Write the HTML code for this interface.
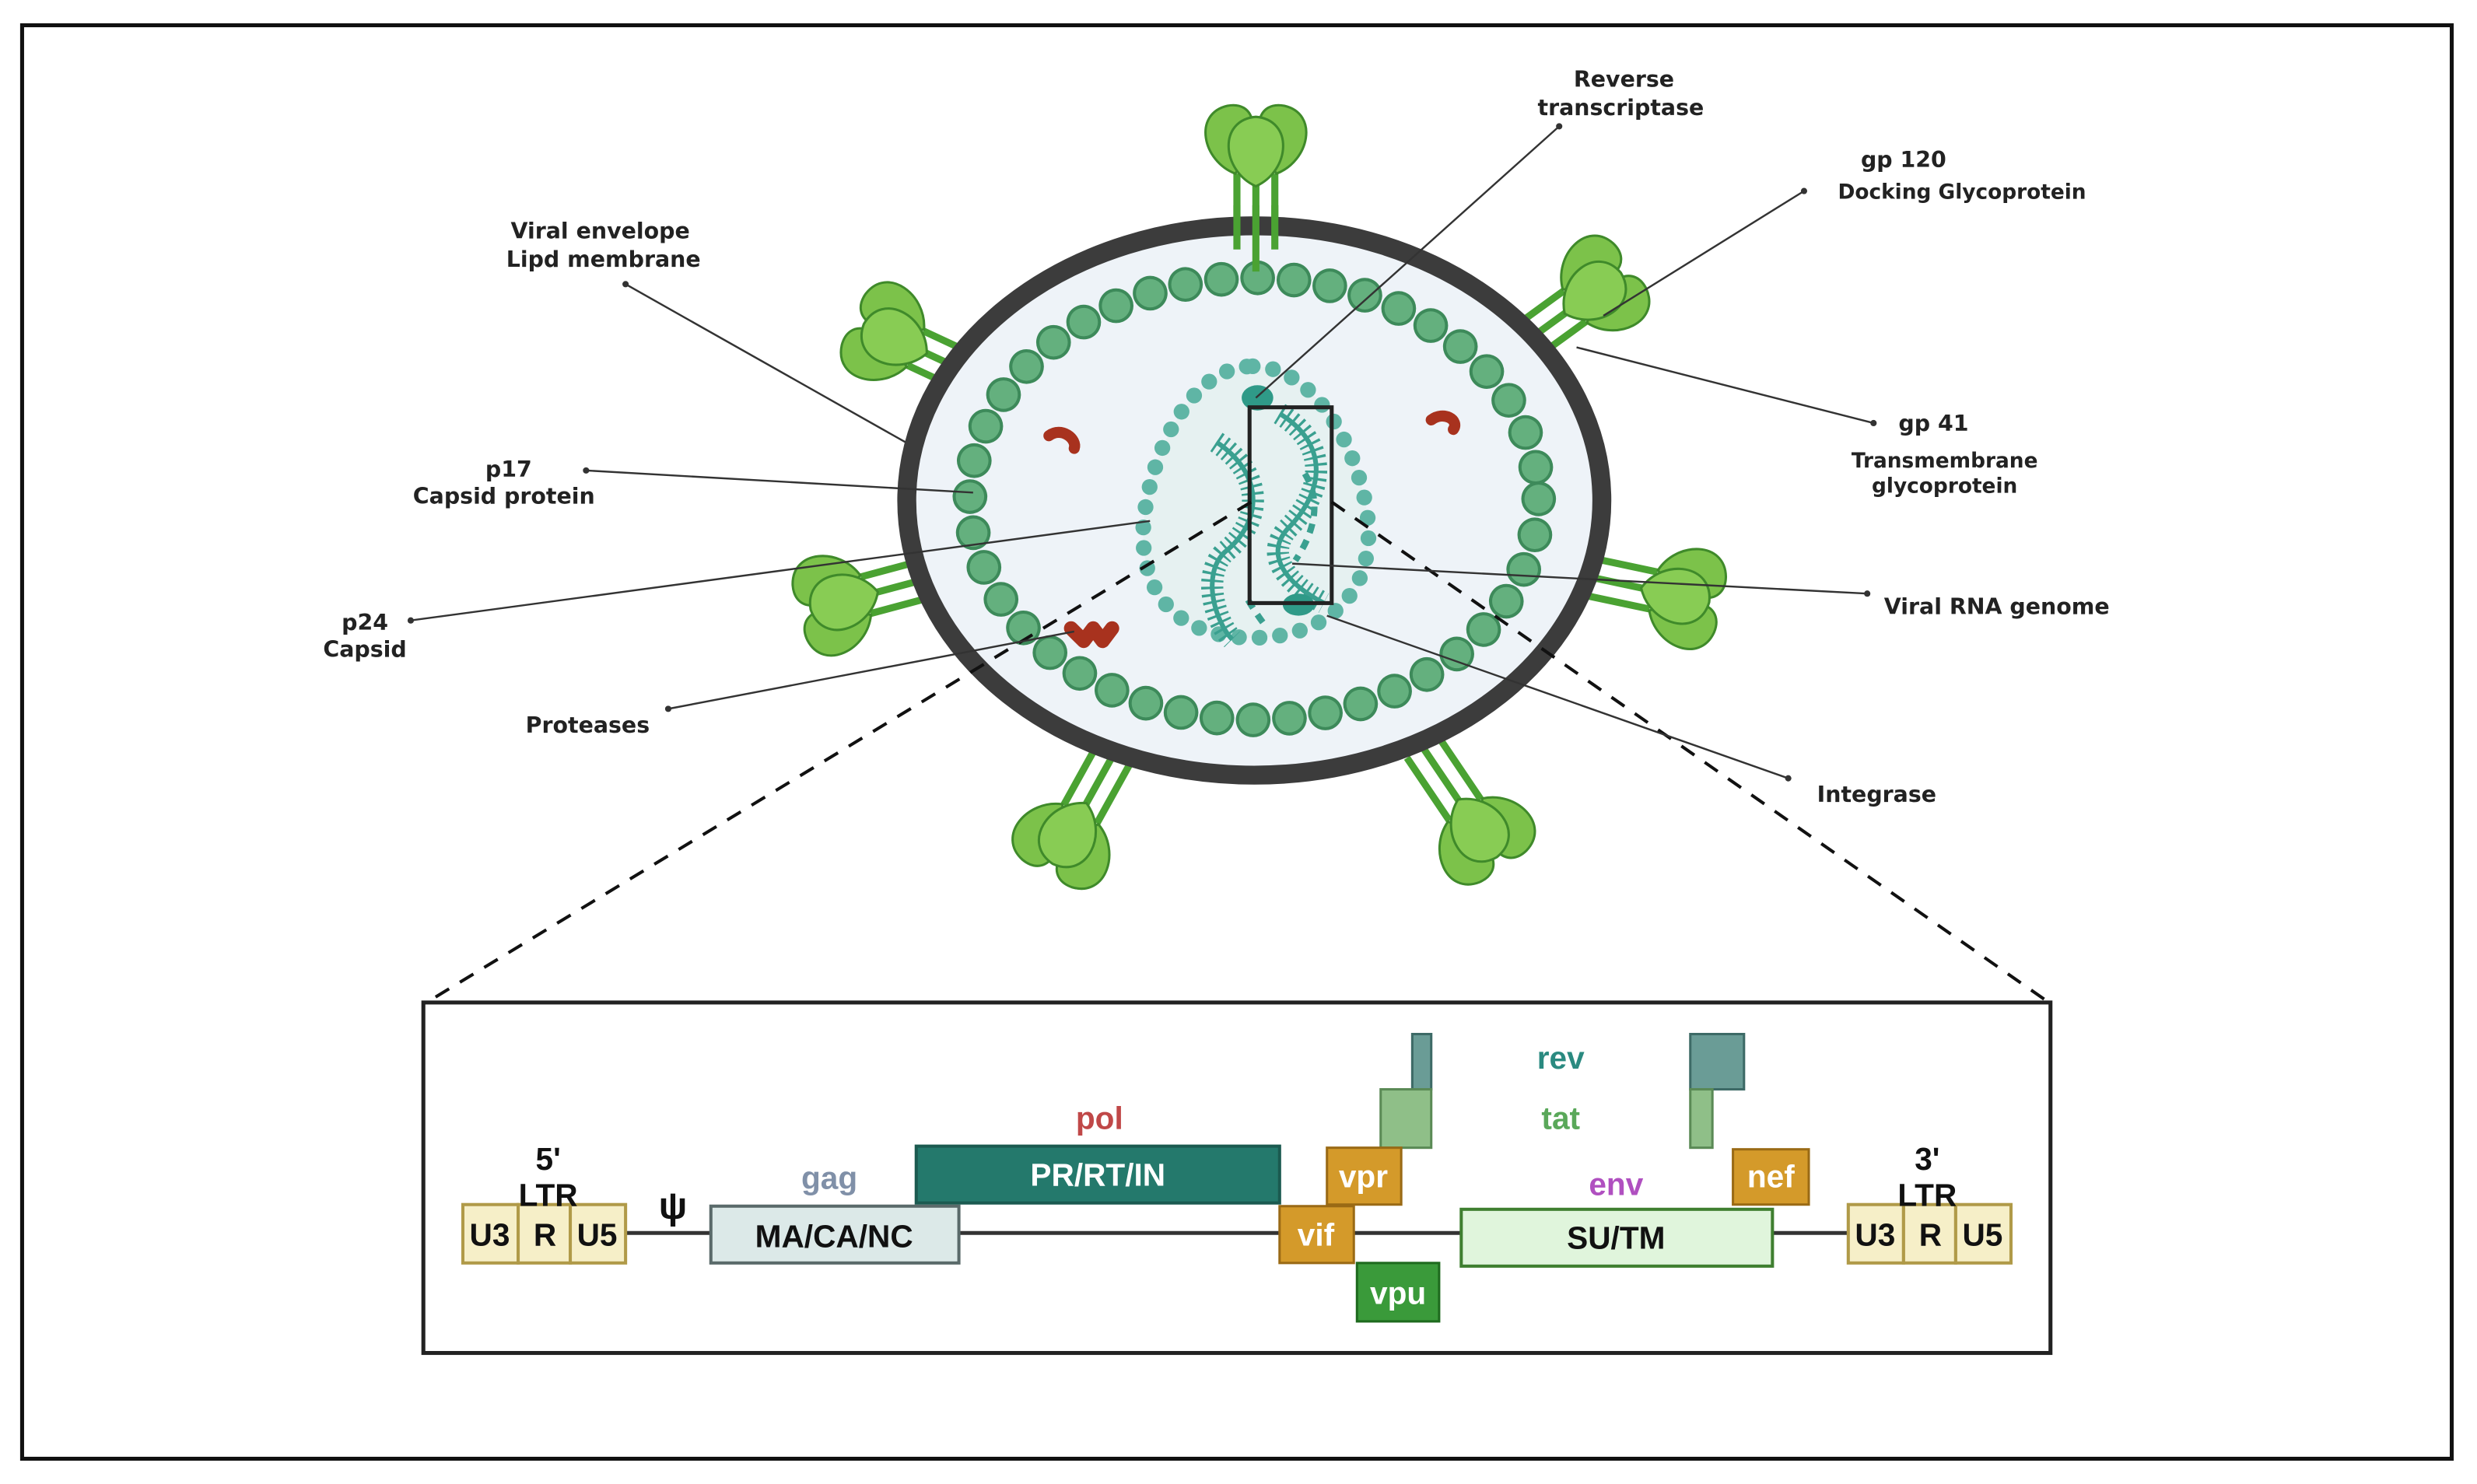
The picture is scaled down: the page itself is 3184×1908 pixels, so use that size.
<!DOCTYPE html>
<html><head><meta charset="utf-8"><style>
html,body{margin:0;padding:0;background:#fff}
svg{display:block}
.l{font-family:"DejaVu Sans","Liberation Sans",sans-serif;font-weight:bold;font-size:14px;fill:#222}
.g{font-family:"Liberation Sans",sans-serif;font-weight:bold;font-size:20px}
.ln{stroke:#333;stroke-width:1.2;fill:none}
</style></head><body>
<svg width="3184" height="1908" viewBox="0 0 1568 940" preserveAspectRatio="none" xmlns="http://www.w3.org/2000/svg">
<defs>
<g id="sp">
  <line x1="-12" y1="-10" x2="-12" y2="-58" stroke="#4aa232" stroke-width="4.5"/>
  <line x1="12" y1="-10" x2="12" y2="-58" stroke="#4aa232" stroke-width="4.5"/>
  <line x1="0" y1="5" x2="0" y2="-52" stroke="#4aa232" stroke-width="4.5"/>
  <path d="M-13,-58 C-34,-66 -40,-96 -18,-101 C-2,-104 6,-88 -13,-58Z" fill="#7cc24a" stroke="#3f8a2a" stroke-width="1.5"/>
  <path d="M13,-58 C34,-66 40,-96 18,-101 C2,-104 -6,-88 13,-58Z" fill="#7cc24a" stroke="#3f8a2a" stroke-width="1.5"/>
  <path d="M0,-50 C-22,-60 -24,-92 0,-94 C24,-92 22,-60 0,-50Z" fill="#88cc54" stroke="#3f8a2a" stroke-width="1.5"/>
</g>
</defs>
<rect x="14" y="16" width="1538" height="908" fill="#fff" stroke="#111" stroke-width="2.5"/>

<use href="#sp" transform="translate(795,168)"/>
<use href="#sp" transform="translate(632,245) rotate(-65)"/>
<use href="#sp" transform="translate(604,362) rotate(-105)"/>
<use href="#sp" transform="translate(712,465) rotate(-151)"/>
<use href="#sp" transform="translate(895,465) rotate(146)"/>
<use href="#sp" transform="translate(990,362) rotate(102)"/>
<use href="#sp" transform="translate(950,228) rotate(54)"/>

<ellipse cx="794" cy="317" rx="220" ry="174" fill="#eef3f8" stroke="#3c3c3c" stroke-width="12"/>
<ellipse cx="794" cy="316" rx="180" ry="140" fill="none" stroke="#3d8a5a" stroke-width="22" stroke-dasharray="0 23" stroke-linecap="round"/>
<ellipse cx="794" cy="316" rx="180" ry="140" fill="none" stroke="#64b07e" stroke-width="18" stroke-dasharray="0 23" stroke-linecap="round"/>
<line x1="795" y1="130" x2="795" y2="172" stroke="#4aa232" stroke-width="4.5"/>
<line x1="783" y1="130" x2="783" y2="158" stroke="#4aa232" stroke-width="4.5"/>
<line x1="807" y1="130" x2="807" y2="158" stroke="#4aa232" stroke-width="4.5"/>

<path d="M793,232 C835,232 862,290 866,330 C870,380 835,404 793,404 C750,404 720,380 724,330 C728,290 752,232 793,232Z" fill="#e6f1f1" stroke="#5fb5a5" stroke-width="10" stroke-dasharray="0 13" stroke-linecap="round"/>
<path d="M770,280 C800,300 800,330 775,350 C760,365 770,395 780,405" fill="none" stroke="#3aa090" stroke-width="14" stroke-dasharray="1.5 3"/>
<path d="M770,280 C800,300 800,330 775,350 C760,365 770,395 780,405" fill="none" stroke="#3aa090" stroke-width="3"/>
<path d="M810,262 C840,280 840,310 815,335 C800,352 815,370 838,382" fill="none" stroke="#3aa090" stroke-width="14" stroke-dasharray="1.5 3"/>
<path d="M810,262 C840,280 840,310 815,335 C800,352 815,370 838,382" fill="none" stroke="#3aa090" stroke-width="3"/>
<path d="M826,300 C838,320 830,340 820,355 M790,380 C796,390 800,395 800,395" fill="none" stroke="#3aa090" stroke-width="4" stroke-dasharray="6 5"/>
<ellipse cx="796" cy="252" rx="10" ry="8" fill="#2f9a88"/>
<ellipse cx="822" cy="383" rx="10" ry="7" fill="#2f9a88"/>
<rect x="791" y="258" width="52" height="124" fill="none" stroke="#222" stroke-width="2.5"/>
<path d="M664,276 C672,270 682,278 680,284" fill="none" stroke="#a8321e" stroke-width="7" stroke-linecap="round"/>
<path d="M906,266 C914,260 924,266 920,272" fill="none" stroke="#a8321e" stroke-width="7" stroke-linecap="round"/>
<path d="M678,398 L686,406 L692,398 L698,406 L704,398" fill="none" stroke="#a8321e" stroke-width="9" stroke-linecap="round" stroke-linejoin="round"/>

<line x1="792" y1="318" x2="270" y2="635" stroke="#111" stroke-width="2" stroke-dasharray="10 8"/>
<line x1="843" y1="318" x2="1297" y2="635" stroke="#111" stroke-width="2" stroke-dasharray="10 8"/>

<g class="ln">
<line x1="987" y1="80" x2="795" y2="252"/>
<line x1="1142" y1="121" x2="1015" y2="200"/>
<line x1="396" y1="180" x2="573" y2="280"/>
<line x1="1186" y1="268" x2="998" y2="220"/>
<line x1="371" y1="298" x2="616" y2="312"/>
<line x1="260" y1="393" x2="728" y2="330"/>
<line x1="1182" y1="376" x2="818" y2="357"/>
<line x1="423" y1="449" x2="680" y2="400"/>
<line x1="1132" y1="493" x2="840" y2="390"/>
</g>
<g fill="#333">
<circle cx="987" cy="80" r="2"/><circle cx="1142" cy="121" r="2"/><circle cx="396" cy="180" r="2"/>
<circle cx="1186" cy="268" r="2"/><circle cx="371" cy="298" r="2"/><circle cx="260" cy="393" r="2"/>
<circle cx="1182" cy="376" r="2"/><circle cx="423" cy="449" r="2"/><circle cx="1132" cy="493" r="2"/>
</g>
<g class="l" text-anchor="middle">
<text x="1028" y="55">Reverse</text><text x="1026" y="73">transcriptase</text>
<text x="1205" y="106">gp 120</text><text x="1242" y="126" style="font-size:13px">Docking Glycoprotein</text>
<text x="380" y="151">Viral envelope</text><text x="382" y="169">Lipd membrane</text>
<text x="1224" y="273">gp 41</text><text x="1231" y="296" style="font-size:13px">Transmembrane</text><text x="1231" y="312" style="font-size:13px">glycoprotein</text>
<text x="322" y="302">p17</text><text x="319" y="319">Capsid protein</text>
<text x="231" y="399">p24</text><text x="231" y="416">Capsid</text>
<text x="1264" y="389">Viral RNA genome</text>
<text x="372" y="464">Proteases</text>
<text x="1188" y="508">Integrase</text>
</g>

<rect x="268" y="635" width="1030" height="222" fill="#fff" stroke="#222" stroke-width="2.5"/>
<line x1="396" y1="781" x2="1170" y2="781" stroke="#333" stroke-width="2.5"/>
<g stroke="#b09a48" stroke-width="2" fill="#f6efc8">
<rect x="293" y="763" width="35" height="37"/><rect x="328" y="763" width="33" height="37"/><rect x="361" y="763" width="35" height="37"/>
<rect x="1170" y="763" width="35" height="37"/><rect x="1205" y="763" width="33" height="37"/><rect x="1238" y="763" width="35" height="37"/>
</g>
<rect x="450" y="764" width="157" height="36" fill="#dce9e8" stroke="#5a6a6a" stroke-width="2"/>
<rect x="580" y="726" width="230" height="36" fill="#24796c" stroke="#1b5a50" stroke-width="2"/>
<rect x="894" y="655" width="12" height="35" fill="#6a9c96" stroke="#3d6a66" stroke-width="1.5"/>
<rect x="874" y="690" width="32" height="37" fill="#8fbf88" stroke="#5a8a55" stroke-width="1.5"/>
<rect x="1070" y="655" width="34" height="35" fill="#6a9c96" stroke="#3d6a66" stroke-width="1.5"/>
<rect x="1070" y="690" width="14" height="37" fill="#8fbf88" stroke="#5a8a55" stroke-width="1.5"/>
<rect x="840" y="727" width="47" height="36" fill="#d49a2a" stroke="#9a6a15" stroke-width="1.5"/>
<rect x="810" y="764" width="47" height="36" fill="#d49a2a" stroke="#9a6a15" stroke-width="1.5"/>
<rect x="859" y="800" width="52" height="37" fill="#3a9a3a" stroke="#1e6a1e" stroke-width="1.5"/>
<rect x="1097" y="728" width="48" height="35" fill="#d49a2a" stroke="#9a6a15" stroke-width="1.5"/>
<rect x="925" y="766" width="197" height="36" fill="#e0f5dc" stroke="#3f7f30" stroke-width="2"/>
<g class="g" text-anchor="middle">
<text x="310" y="789" fill="#111">U3</text><text x="345" y="789" fill="#111">R</text><text x="378" y="789" fill="#111">U5</text>
<text x="1187" y="789" fill="#111">U3</text><text x="1222" y="789" fill="#111">R</text><text x="1255" y="789" fill="#111">U5</text>
<text x="347" y="741" fill="#111">5'</text><text x="347" y="764" fill="#111">LTR</text>
<text x="1220" y="741" fill="#111">3'</text><text x="1220" y="764" fill="#111">LTR</text>
<text x="426" y="772" fill="#111" style="font-size:24px">ψ</text>
<text x="528" y="790" fill="#111">MA/CA/NC</text>
<text x="695" y="751" fill="#fff">PR/RT/IN</text>
<text x="525" y="753" fill="#8090a8">gag</text>
<text x="696" y="715" fill="#c04848">pol</text>
<text x="863" y="752" fill="#fff">vpr</text>
<text x="833" y="789" fill="#fff">vif</text>
<text x="885" y="826" fill="#fff">vpu</text>
<text x="1121" y="752" fill="#fff">nef</text>
<text x="1023" y="791" fill="#111">SU/TM</text>
<text x="1023" y="757" fill="#b050c0">env</text>
<text x="988" y="677" fill="#2a8a80">rev</text>
<text x="988" y="715" fill="#5aa85a">tat</text>
</g>
</svg>
</body></html>
